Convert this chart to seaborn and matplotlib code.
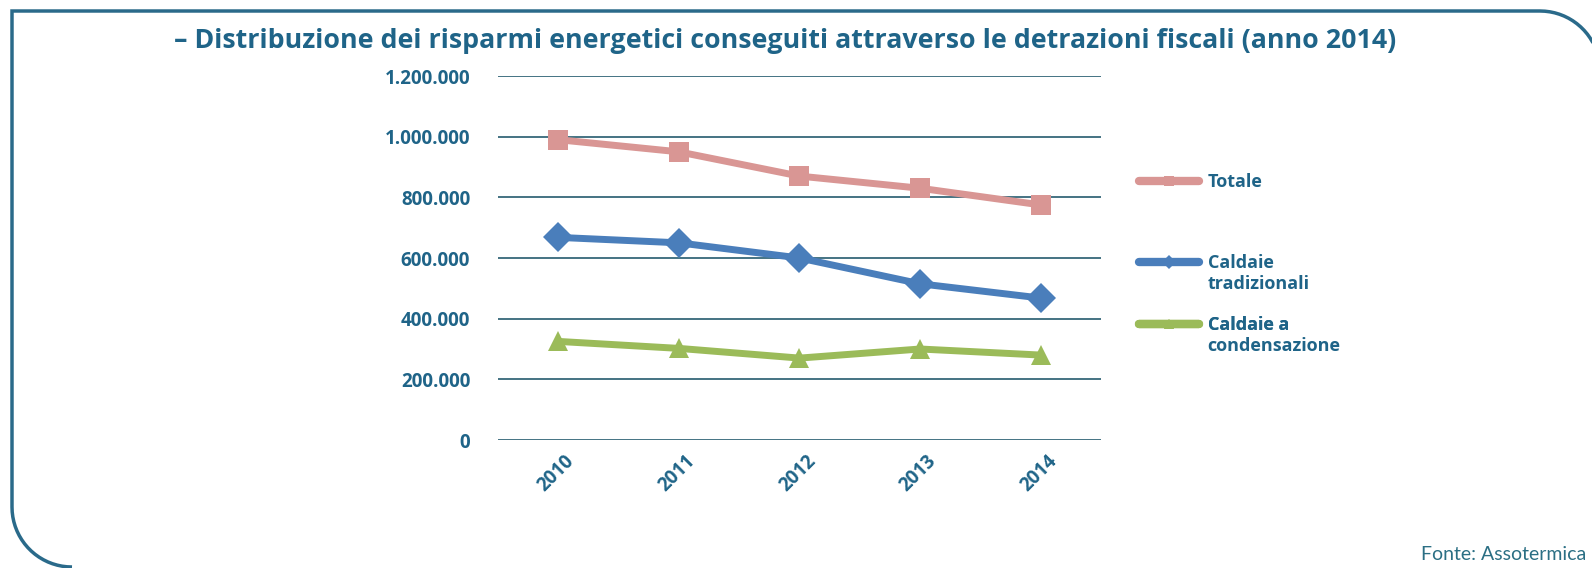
import numpy as np
import pandas as pd
import seaborn as sns
import matplotlib.pyplot as plt
import matplotlib.transforms as mtransforms
from matplotlib.path import Path
from matplotlib.patches import PathPatch

sns.set_theme(style="white")
plt.rcParams['font.family'] = ['Open Sans', 'DejaVu Sans']

# data
years = ['2010', '2011', '2012', '2013', '2014']
totale = [990000, 950000, 870000, 830000, 775000]
tradizionali = [668000, 650000, 600000, 515000, 468000]
condensazione = [325000, 302000, 270000, 300000, 280000]

series_names = ['Totale', 'Caldaie tradizionali', 'Caldaie a condensazione']
legend_lines = [['Totale'], ['Caldaie', 'tradizionali'], ['Caldaie a', 'condensazione']]
series_colors = ['#d99694', '#4a7ebb', '#9bbb59']
series_markers = ['s', 'D', '^']

df = pd.DataFrame({
    'anno': years * 3,
    'valore': totale + tradizionali + condensazione,
    'serie': [s for s in series_names for _ in years],
})

text_col = '#1f6488'
W, H = 1592, 568
fig = plt.figure(figsize=(W / 100, H / 100), dpi=100)
ax = fig.add_axes([498 / W, 1 - 440 / H, 603 / W, 364 / H])

sns.lineplot(data=df, x='anno', y='valore', hue='serie', style='serie',
             hue_order=series_names, style_order=series_names,
             palette=dict(zip(series_names, series_colors)),
             markers=dict(zip(series_names, series_markers)),
             dashes=False, linewidth=5, markersize=15,
             markeredgewidth=0, legend=False, ax=ax)

# Excel style value axis
ax.set_ylim(0, 1200000)
ax.set_xlim(-0.5, len(years) - 0.5)
yt = np.arange(0, 1200001, 200000)
ax.set_yticks(yt)
ax.set_yticklabels([f"{v:,.0f}".replace(',', '.') for v in yt])
ax.yaxis.grid(True, color='#36687a', linewidth=1.3)
ax.set_axisbelow(True)
for s in ax.spines.values():
    s.set_visible(False)
ax.tick_params(axis='y', length=0, pad=20, labelsize=13.5, labelcolor=text_col)
ax.tick_params(axis='x', length=0, pad=8, labelsize=13.5, labelcolor=text_col)
shift = mtransforms.ScaledTranslation(6 / 100, 0, fig.dpi_scale_trans)
for lab in ax.get_yticklabels():
    lab.set_fontweight('bold')
for lab in ax.get_xticklabels():
    lab.set_fontweight('bold')
    lab.set_rotation(45)
    lab.set_ha('right')
    lab.set_rotation_mode('anchor')
    lab.set_transform(lab.get_transform() + shift)
ax.set_xlabel('')
ax.set_ylabel('')

# legend entries, Excel style (handle on the first text line)
leg_y = [182, 263, 325]
legends = []
for line, parts, y in zip(ax.get_lines(), legend_lines, leg_y):
    lg = ax.legend([line], [parts[0]], loc='center left',
                   bbox_to_anchor=(1130 / W, 1 - y / H),
                   bbox_transform=fig.transFigure, frameon=False,
                   fontsize=13, handlelength=3.3, handletextpad=0.5,
                   borderpad=0, markerscale=0.5, labelcolor=text_col)
    lg.get_texts()[0].set_fontweight('bold')
    lg.legend_handles[0].set_linewidth(6)
    ax.add_artist(lg)
    legends.append(lg)

fig.canvas.draw()
for lg, parts in zip(legends, legend_lines):
    if len(parts) > 1:
        bb = lg.get_texts()[0].get_window_extent()
        fig.text(bb.x0 / W, (bb.y0 - 21) / H, parts[1], ha='left', va='bottom',
                 fontsize=13, fontweight='bold', color=text_col)

fig.text(174 / W, 1 - 41 / H,
         '\u2013 Distribuzione dei risparmi energetici conseguiti attraverso le detrazioni fiscali (anno 2014)',
         ha='left', va='center', fontsize=19.25, fontweight='bold', color=text_col)
fig.text(1586 / W, 1 - 555 / H, 'Fonte: Assotermica', ha='right', va='center',
         fontsize=14, color='#2b6f84', family=['Lato', 'DejaVu Sans'])

# frame with rounded top-right and bottom-left corners (pixel coords)
r = 60
a1 = np.linspace(np.pi / 2, 0, 20)
a2 = np.linspace(np.pi, 1.5 * np.pi, 20)
top_right = np.column_stack([1540 + r * np.cos(a1), (H - 11 - r) + r * np.sin(a1)])
bot_left = np.column_stack([72 + r * np.cos(a2), (H - 507) + r * np.sin(a2)])
pts = np.vstack([bot_left[::-1], [[12, H - 11]], top_right])
frame = PathPatch(Path(pts / [W, H]), transform=fig.transFigure,
                  fill=False, edgecolor='#2a6a8a', linewidth=2.5, clip_on=False)
fig.patches.append(frame)

fig.savefig('out.png', dpi=100)
